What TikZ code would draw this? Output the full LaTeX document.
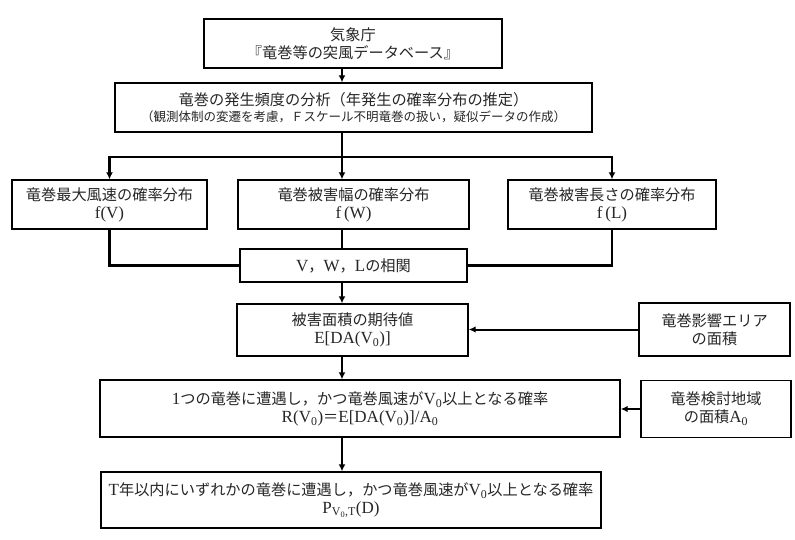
\documentclass[tikz,border=0pt]{standalone}
\usepackage{fontspec}
\setmainfont{Noto Sans CJK JP}
\newfontfamily\lat[Scale=1.12]{Liberation Serif}
\usetikzlibrary{arrows.meta}
\begin{document}
\begin{tikzpicture}[x=1pt,y={(0pt,-1pt)},
  box/.style={draw, line width=1.4pt, rectangle, inner sep=0pt, align=center,
    font=\fontsize{15.2}{18}\selectfont, text=black!85},
  conn/.style={line width=2.8pt},
  arr/.style={conn, -{Latex[length=7pt,width=7pt]}},
  sarr/.style={line width=2pt, -{Latex[length=7pt,width=6.5pt]}}]
\useasboundingbox (0,0) rectangle (795,540);
\coordinate (sp) at (342,0);
\coordinate (bus) at (0,157);
\node[box, minimum width=298pt, minimum height=49pt] (b1) at (353,43.5)
  {気象庁\\『竜巻等の突風データベース』};
\node[box, minimum width=477pt, minimum height=49pt] (b2) at (353.5,107.5)
  {竜巻の発生頻度の分析（年発生の確率分布の推定）\\[-2pt]
   {\fontsize{12.5}{14}\selectfont （観測体制の変遷を考慮，Ｆスケール不明竜巻の扱い，疑似データの作成）}};
\node[box, minimum width=195pt, minimum height=49pt] (b3) at (109.5,204.5)
  {竜巻最大風速の確率分布\\{\lat f(V)}};
\node[box, minimum width=231pt, minimum height=49pt] (b4) at (353.5,204.5)
  {竜巻被害幅の確率分布\\{\lat f\,(W)}};
\node[box, minimum width=208pt, minimum height=49pt] (b5) at (612,204.5)
  {竜巻被害長さの確率分布\\{\lat f\,(L)}};
\node[box, minimum width=227pt, minimum height=33pt] (vwl) at (353.5,265.5)
  {{\lat V}，{\lat W}，{\lat L}の相関};
\node[box, minimum width=231pt, minimum height=52pt] (b6) at (352.5,330)
  {被害面積の期待値\\{\lat E[DA(V\textsubscript{0})]}};
\node[box, minimum width=151pt, minimum height=53pt] (b7) at (714.5,329.5)
  {竜巻影響エリア\\の面積};
\node[box, minimum width=520pt, minimum height=57pt] (b8) at (360,408.5)
  {{\lat 1}つの竜巻に遭遇し，かつ竜巻風速が{\lat V\textsubscript{0}}以上となる確率\\
   {\lat R(V\textsubscript{0})}＝{\lat E[DA(V\textsubscript{0})]/A\textsubscript{0}}};
\node[box, minimum width=150pt, minimum height=57pt] (b9) at (716,409)
  {竜巻検討地域\\の面積{\lat A\textsubscript{0}}};
\node[box, minimum width=500pt, minimum height=56pt] (b10) at (351,500)
  {{\lat T}年以内にいずれかの竜巻に遭遇し，かつ竜巻風速が{\lat V\textsubscript{0}}以上となる確率\\
   {\lat P\textsubscript{V\textsubscript{0},T}(D)}};
\draw[arr] (b1.south -| sp) -- (b2.north -| sp);
\draw[conn] (b2.south -| sp) -- (bus -| sp);
\draw[conn, line cap=rect] (bus -| b3.north) -- (bus -| b5.north);
\draw[arr] (bus -| b3.north) -- (b3.north);
\draw[arr] (bus -| sp) -- (b4.north -| sp);
\draw[arr] (bus -| b5.north) -- (b5.north);
\draw[conn] (b3.south) |- (vwl.west);
\draw[conn] (b5.south) |- (vwl.east);
\draw[conn] (b4.south -| sp) -- (vwl.north -| sp);
\draw[arr] (vwl.south -| sp) -- (b6.north -| sp);
\draw[sarr] (b7.west) -- (b7.west -| b6.east);
\draw[arr] (b6.south -| sp) -- (b8.north -| sp);
\draw[sarr] (b9.west) -- (b9.west -| b8.east);
\draw[arr] (b8.south -| sp) -- (b10.north -| sp);
\end{tikzpicture}
\end{document}
